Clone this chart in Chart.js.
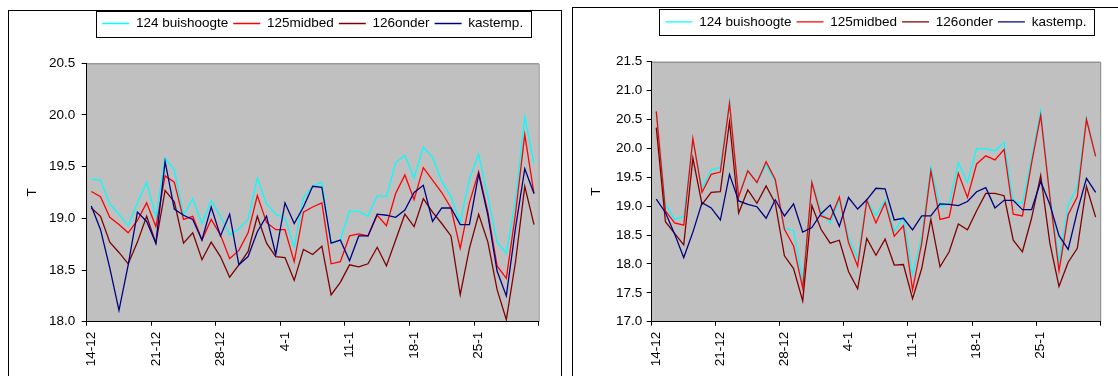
<!DOCTYPE html>
<html>
<head>
<meta charset="utf-8">
<script src="https://cdn.jsdelivr.net/npm/chart.js@4.4.1/dist/chart.umd.min.js"></script>
<style>
html, body { margin: 0; padding: 0; background: #fff; width: 1118px; height: 376px; overflow: hidden; position: relative; }
.frame { position: absolute; box-sizing: border-box; border: 1px solid #000; background: #fff; }
canvas { position: absolute; }
</style>
</head>
<body>
<div class="frame" style="left:8px;top:10px;width:554px;height:400px"></div>
<div class="frame" style="left:572px;top:7px;width:600px;height:400px"></div>
<canvas id="chartLeft" width="551" height="365" style="left:9px;top:11px"></canvas>
<canvas id="chartRight" width="545" height="368" style="left:573px;top:8px"></canvas>
<script>
// Daily categories, 14 December to 31 January
const days = [
  '14-12','15-12','16-12','17-12','18-12','19-12','20-12','21-12','22-12','23-12',
  '24-12','25-12','26-12','27-12','28-12','29-12','30-12','31-12',
  '1-1','2-1','3-1','4-1','5-1','6-1','7-1','8-1','9-1','10-1','11-1','12-1',
  '13-1','14-1','15-1','16-1','17-1','18-1','19-1','20-1','21-1','22-1','23-1',
  '24-1','25-1','26-1','27-1','28-1','29-1','30-1','31-1'
];

const seriesNames = ['124 buishoogte', '125midbed', '126onder', 'kastemp.'];
const seriesColors = ['#00ffff', '#ff0000', '#800000', '#000080'];

// Greenhouse air temperature (shared by both panels)
const kastemp = [
  19.12, 18.89, 18.52, 18.11, 18.55, 19.06, 18.97, 18.76, 19.55, 19.09,
  19.03, 18.99, 18.79, 19.11, 18.83, 19.04, 18.55, 18.63, 18.87, 19.02,
  18.65, 19.15, 18.95, 19.11, 19.31, 19.30, 18.76, 18.79, 18.59, 18.83,
  18.83, 19.04, 19.03, 19.01, 19.08, 19.25, 19.32, 18.97, 19.10, 19.10,
  18.94, 18.94, 19.43, 19.03, 18.49, 18.25, 18.91, 19.48, 19.24
];

// Left panel
const buis1 = [
  19.38, 19.37, 19.14, 19.04, 18.93, 19.15, 19.35, 19.01, 19.58, 19.47,
  19.03, 19.19, 18.95, 19.17, 19.02, 18.84, 18.90, 18.99, 19.39, 19.14,
  19.04, 19.00, 18.72, 19.20, 19.31, 19.35, 18.76, 18.79, 19.07, 19.07,
  19.02, 19.22, 19.21, 19.54, 19.61, 19.39, 19.69, 19.59, 19.36, 19.21,
  18.96, 19.38, 19.62, 19.21, 18.77, 18.66, 19.18, 19.98, 19.53
];
const midbed1 = [
  19.26, 19.21, 19.01, 18.94, 18.86, 18.98, 19.15, 18.92, 19.41, 19.35,
  18.99, 19.02, 18.79, 18.99, 18.84, 18.61, 18.69, 18.86, 19.22, 18.96,
  18.89, 18.89, 18.58, 19.06, 19.11, 19.15, 18.56, 18.58, 18.83, 18.85,
  18.83, 19.03, 18.93, 19.24, 19.42, 19.18, 19.49, 19.37, 19.25, 19.10,
  18.71, 19.15, 19.45, 19.06, 18.54, 18.42, 19.05, 19.81, 19.24
];
const onder1 = [
  19.10, 19.02, 18.77, 18.67, 18.56, 18.77, 19.02, 18.76, 19.27, 19.16,
  18.76, 18.86, 18.60, 18.77, 18.63, 18.43, 18.55, 18.68, 19.02, 18.76,
  18.63, 18.62, 18.40, 18.70, 18.65, 18.73, 18.26, 18.38, 18.55, 18.53,
  18.56, 18.72, 18.54, 18.79, 19.04, 18.92, 19.19, 19.06, 18.95, 18.83,
  18.26, 18.71, 19.04, 18.77, 18.31, 18.02, 18.58, 19.31, 18.94
];

// Right panel
const buis2 = [
  20.62, 19.04, 18.77, 18.82, 20.15, 19.31, 19.63, 19.67, 20.82, 19.16,
  19.62, 19.41, 19.71, 19.43, 18.62, 18.58, 17.69, 19.43, 18.90, 18.71,
  19.10, 18.47, 18.10, 19.11, 18.84, 19.11, 18.56, 18.82, 17.81, 18.47,
  19.67, 18.99, 19.04, 19.75, 19.41, 20.00, 19.99, 19.96, 20.10, 19.08,
  19.05, 19.83, 20.65, 19.22, 18.04, 19.02, 19.33, 20.52, 19.86
];
const midbed2 = [
  20.64, 18.92, 18.71, 18.67, 20.17, 19.24, 19.55, 19.59, 20.78, 19.16,
  19.61, 19.41, 19.77, 19.46, 18.60, 18.31, 17.58, 19.41, 18.83, 18.77,
  19.16, 18.37, 17.96, 19.10, 18.71, 19.06, 18.48, 18.66, 17.55, 18.36,
  19.61, 18.77, 18.81, 19.57, 19.15, 19.73, 19.87, 19.80, 19.98, 18.86,
  18.83, 19.74, 20.57, 19.16, 17.88, 18.85, 19.16, 20.50, 19.86
];
const onder2 = [
  20.36, 18.73, 18.53, 18.33, 19.83, 19.03, 19.24, 19.25, 20.46, 18.88,
  19.28, 19.05, 19.35, 19.05, 18.14, 17.92, 17.36, 19.01, 18.60, 18.36,
  18.41, 17.87, 17.57, 18.44, 18.15, 18.43, 17.98, 17.99, 17.40, 17.92,
  18.77, 17.95, 18.21, 18.69, 18.59, 18.92, 19.22, 19.22, 19.18, 18.41,
  18.21, 18.79, 19.53, 18.36, 17.61, 18.03, 18.27, 19.34, 18.81
];

const FONT_SIZE = 13.5;
Chart.defaults.font.family = "'Liberation Sans', Arial, sans-serif";
Chart.defaults.font.size = FONT_SIZE;
Chart.defaults.color = '#000';

// Grey plot background with a grey top/right edge, and a framed legend
const plotFrame = {
  id: 'plotFrame',
  beforeDraw(chart) {
    const { ctx, chartArea: a } = chart;
    ctx.save();
    ctx.fillStyle = '#c0c0c0';
    ctx.fillRect(a.left, a.top, a.right - a.left, a.bottom - a.top);
    ctx.strokeStyle = '#808080';
    ctx.lineWidth = 1;
    ctx.beginPath();
    ctx.moveTo(a.left, a.top + 0.5);
    ctx.lineTo(a.right + 0.5, a.top + 0.5);
    ctx.lineTo(a.right + 0.5, a.bottom);
    ctx.stroke();
    ctx.restore();
  },
  afterDraw(chart) {
    const boxes = chart.legend.legendHitBoxes;
    if (!boxes || !boxes.length) return;
    const l = Math.min(...boxes.map(b => b.left)) - 6;
    const r = Math.max(...boxes.map(b => b.left + b.width)) + 8;
    const t = boxes[0].top - 6;
    const b = boxes[0].top + boxes[0].height + 6;
    const ctx = chart.ctx;
    ctx.save();
    ctx.strokeStyle = '#000';
    ctx.lineWidth = 1;
    ctx.strokeRect(Math.round(l) + 0.5, Math.round(t) + 0.5, Math.round(r - l), Math.round(b - t));
    ctx.restore();
  }
};

// Fixes the space taken by the legend above the plot
function legendSpace(h) {
  return {
    id: 'legendSpace',
    beforeLayout(chart) {
      const lg = chart.legend;
      if (lg && !lg._fixedFit) {
        const fit = lg.fit;
        lg.fit = function () { fit.call(this); this.height = h; };
        lg._fixedFit = true;
      }
    }
  };
}

function buildChart(id, values, yMin, yMax, g) {
  return new Chart(document.getElementById(id), {
    type: 'line',
    data: {
      labels: days,
      datasets: values.map((v, i) => ({
        label: seriesNames[i],
        data: v,
        borderColor: seriesColors[i],
        backgroundColor: seriesColors[i],
        borderWidth: 1.3,
        pointRadius: 0,
        tension: 0,
        fill: false,
        order: values.length - i
      }))
    },
    options: {
      responsive: false,
      animation: false,
      devicePixelRatio: 1,
      layout: { padding: { left: 0, top: g.padTop, right: g.padRight, bottom: 0 } },
      plugins: {
        tooltip: { enabled: false },
        legend: {
          position: 'top',
          align: 'center',
          fullSize: false,
          labels: {
            usePointStyle: true,
            pointStyle: 'line',
            pointStyleWidth: 27,
            padding: 5,
            color: '#000',
            font: { size: FONT_SIZE },
            sort: (a, b) => a.datasetIndex - b.datasetIndex
          }
        }
      },
      scales: {
        x: {
          type: 'category',
          offset: true,
          grid: {
            offset: true,
            drawOnChartArea: false,
            tickLength: 4,
            tickColor: c => (c.index === undefined || c.index % 7 === 0) ? '#000' : 'rgba(0,0,0,0)'
          },
          border: { color: '#000', width: 1 },
          ticks: {
            autoSkip: false,
            minRotation: 90,
            maxRotation: 90,
            padding: 6,
            color: '#000',
            font: { size: FONT_SIZE },
            callback: function (v, i) { return i % 7 === 0 ? this.getLabelForValue(v) : ''; }
          },
          afterFit: s => { s.height = g.xHeight; }
        },
        y: {
          min: yMin,
          max: yMax,
          grid: { drawOnChartArea: false, tickLength: 5, tickColor: '#000' },
          border: { color: '#000', width: 1 },
          ticks: {
            stepSize: 0.5,
            padding: g.tickPad,
            color: '#000',
            font: { size: FONT_SIZE },
            callback: v => Number(v).toFixed(1)
          },
          title: {
            display: true,
            text: 'T',
            color: '#000',
            font: { size: FONT_SIZE },
            padding: { top: 15.5, bottom: 0 }
          },
          afterFit: s => { s.width = g.yWidth; }
        }
      }
    },
    plugins: [legendSpace(g.legendH), plotFrame]
  });
}

buildChart('chartLeft', [buis1, midbed1, onder1, kastemp], 18, 20.5,
  { padTop: 0.75, legendH: 51.55, yWidth: 77.7, padRight: 21.4, xHeight: 54.3, tickPad: 6.5 });
buildChart('chartRight', [buis2, midbed2, onder2, kastemp], 17, 21.5,
  { padTop: 2.1, legendH: 51.6, yWidth: 78.7, padRight: 14.7, xHeight: 54.3, tickPad: 4.5 });
</script>
</body>
</html>
